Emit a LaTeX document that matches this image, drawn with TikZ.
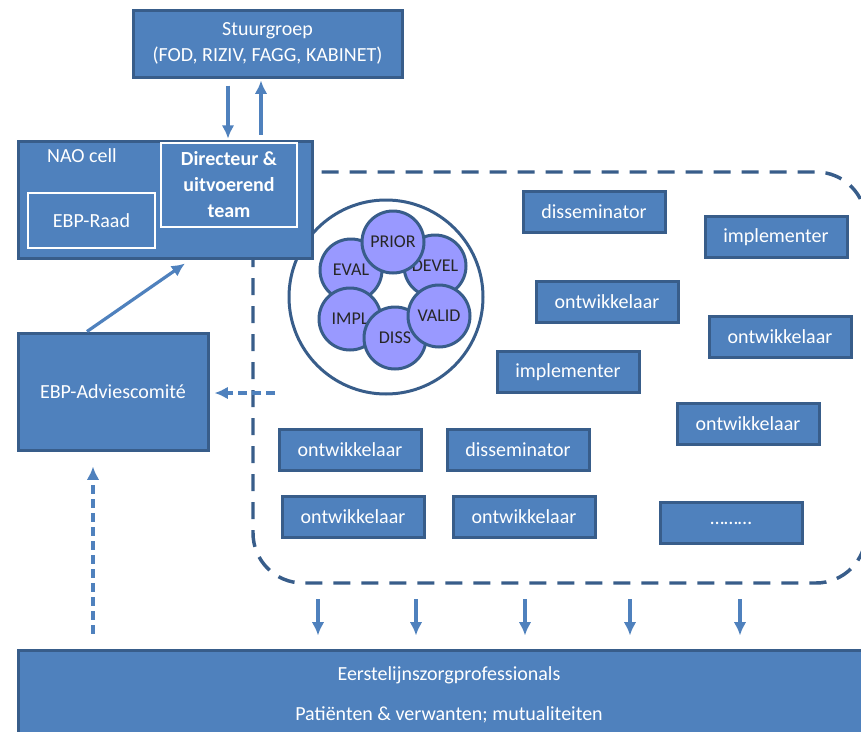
\documentclass[tikz,border=0pt]{standalone}
\usepackage{fontspec}
\setmainfont{Carlito}
\usetikzlibrary{positioning,arrows.meta,calc}

\definecolor{boxfill}{HTML}{4F81BD}
\definecolor{boxline}{HTML}{385D8A}
\definecolor{bubblefill}{HTML}{9999FF}

\tikzset{
  bluebox/.style={draw=boxline, fill=boxfill, line width=2.25pt, text=white, align=center,
    inner sep=0pt, font=\fontsize{15}{19}\selectfont},
  innerbox/.style={bluebox, draw=white, line width=2pt},
  rolebox/.style={bluebox, minimum width=106.5pt, minimum height=30.75pt},
  bubble/.style={circle, draw=boxline, fill=bubblefill, line width=2.25pt, minimum size=46.5pt,
    inner sep=0pt, text=black!85, font=\fontsize{13.5}{15}\selectfont},
  arr/.style={->, draw=boxfill, line width=2.4pt},
  dasharr/.style={arr, dash pattern=on 6.5pt off 4pt},
  groupline/.style={draw=boxline, line width=2.6pt, dash pattern=on 12.75pt off 8.25pt}
}

\begin{document}
\begin{tikzpicture}[x=0.75pt, y=-0.75pt, >={Latex[length=10pt,width=9.5pt]}]
  \useasboundingbox (0,0) rectangle (861,732);
  \clip (0,0) rectangle (861,732);
  \fill[white] (0,0) rectangle (861,732);

  % werkgroepen
  \draw[groupline, rounded corners=37.5pt] (253,172) rectangle (866,583);
  \node[circle, draw=boxline, fill=white, line width=2.25pt, minimum size=145.5pt] (cycle) at (386,297) {};
  \foreach \nm/\cx/\cy/\txt in {eval/351/270/EVAL, devel/435/266/DEVEL, prior/393/242/PRIOR,
      impl/350/319/IMPL, diss/395/338/DISS, valid/439/316/VALID}
    \node[bubble] (\nm) at (\cx,\cy) {\txt};

  % structuur
  \node[bluebox, minimum width=201.75pt, minimum height=50.25pt] (stuur) at (267.5,43.5)
    {Stuurgroep\\(FOD, RIZIV, FAGG, KABINET)};
  \node[bluebox, minimum width=220.5pt, minimum height=87.75pt] (nao) at (165,199.5) {};
  \node[bluebox, draw=none, fill=none] (naolbl) at (82,156) {NAO cell};
  \node[innerbox, minimum width=102pt, minimum height=63pt, font=\fontsize{15}{19.5}\selectfont\bfseries]
    (dir) at (229,185) {Directeur \&\\uitvoerend\\team};
  \node[innerbox, minimum width=95.25pt, minimum height=41.25pt] (raad) at (91.5,220.5) {EBP-Raad};
  \node[bluebox, minimum width=142.5pt, minimum height=87.75pt] (adv) at (113,391.5) {EBP-Adviescomité};
  \node[bluebox, minimum width=646.5pt, minimum height=67.5pt] (eerste) at (449,695)
    {Eerstelijnszorgprofessionals\\[11pt]Patiënten \& verwanten; mutualiteiten};

  % rollen
  \foreach \nm/\cx/\cy/\txt in {diss1/594/212/disseminator, impl1/776/237/implementer,
      ontw1/607/302/ontwikkelaar, ontw2/780/337/ontwikkelaar, impl2/568/372/implementer,
      ontw3/748/424/ontwikkelaar, ontw4/350/450/ontwikkelaar, diss2/518/450/disseminator,
      ontw5/353/517/ontwikkelaar, ontw6/524/517/ontwikkelaar, more/731/523/………}
    \node[rolebox] (\nm) at (\cx,\cy) {\txt};

  % pijlen
  \draw[arr] ($(stuur.south)+(-39.5,7)$) -- ($(dir.north)+(-1,-3)$);
  \draw[arr] ($(dir.north)+(32,-7)$) -- ($(stuur.south)+(-6.5,2)$);
  \draw[arr] ($(adv.north)+(-26,0)$) -- ($(nao.south)+(20,4)$);
  \coordinate (advtail) at (275,393);
  \draw[dasharr] (advtail) -- ($(adv.east)+(5,1.5)$);
  \draw[dasharr] ($(adv.south)+(-20,182)$) -- ($(adv.south)+(-20,15)$);
  \foreach \ax in {318,416,525,630,740}
    \draw[arr] (\ax,599) -- ($(\ax,0 |- eerste.north)+(0,-13)$);
\end{tikzpicture}
\end{document}
